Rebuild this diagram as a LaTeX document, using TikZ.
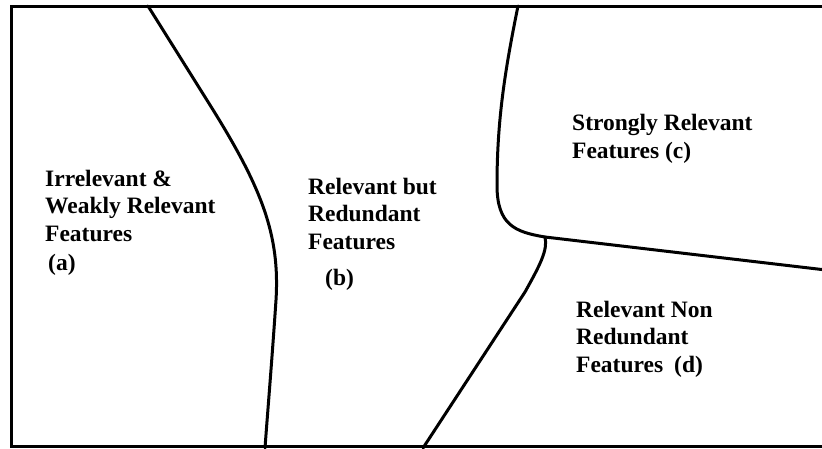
\documentclass[tikz,border=0pt]{standalone}
\usepackage{fontspec}
\setmainfont{Liberation Serif}
\begin{document}
\begin{tikzpicture}[x=1pt,y=-1pt,
  region/.style={line width=3pt,line cap=round,line join=round},
  label/.style={anchor=base west,align=left,inner sep=0pt,
    font=\fontsize{23.5}{27.5}\selectfont\bfseries}]
\useasboundingbox (0,0) rectangle (822,448);
\clip (0,0) rectangle (822,448);
% outer frame
\draw[line width=3pt] (11,6.5) rectangle (830,446.5);
% named points on the boundaries
\coordinate (ab top) at (148,6);
\coordinate (ab bottom) at (265,448);
\coordinate (bc top) at (518,6);
\coordinate (junction) at (545,237);
\coordinate (cd right) at (826,270);
\coordinate (bd bottom) at (423,448);
% boundary between (a) and (b)
\draw[region] (ab top) -- (210,105) .. controls (262,188) and (280,235) .. (276,300)
  .. controls (272,360) and (267,420) .. (ab bottom);
% boundary between (b) and (c)
\draw[region] (bc top) .. controls (505,70) and (497,120) .. (497,185)
  .. controls (497,225) and (515,232) .. (junction);
% boundary between (c) and (d)
\draw[region] (junction) -- (cd right);
% boundary between (b) and (d)
\draw[region] (junction) .. controls (548,250) and (540,265) .. (525,292) -- (bd bottom);
% region labels (anchored at the baseline of their last line)
\node[label] (la) at (45,270) {Irrelevant \&\\Weakly Relevant\\Features\\[1.5pt]\hspace{3pt}(a)};
\node[label] (lb) at (308,285) {Relevant but\\Redundant\\Features\\[8.5pt]\hspace{17pt}(b)};
\node[label] (lc) at (572,158) {Strongly Relevant\\Features (c)};
\node[label] (ld) at (576,372) {Relevant Non\\Redundant\\Features\hspace{11pt}(d)};
\end{tikzpicture}
\end{document}
